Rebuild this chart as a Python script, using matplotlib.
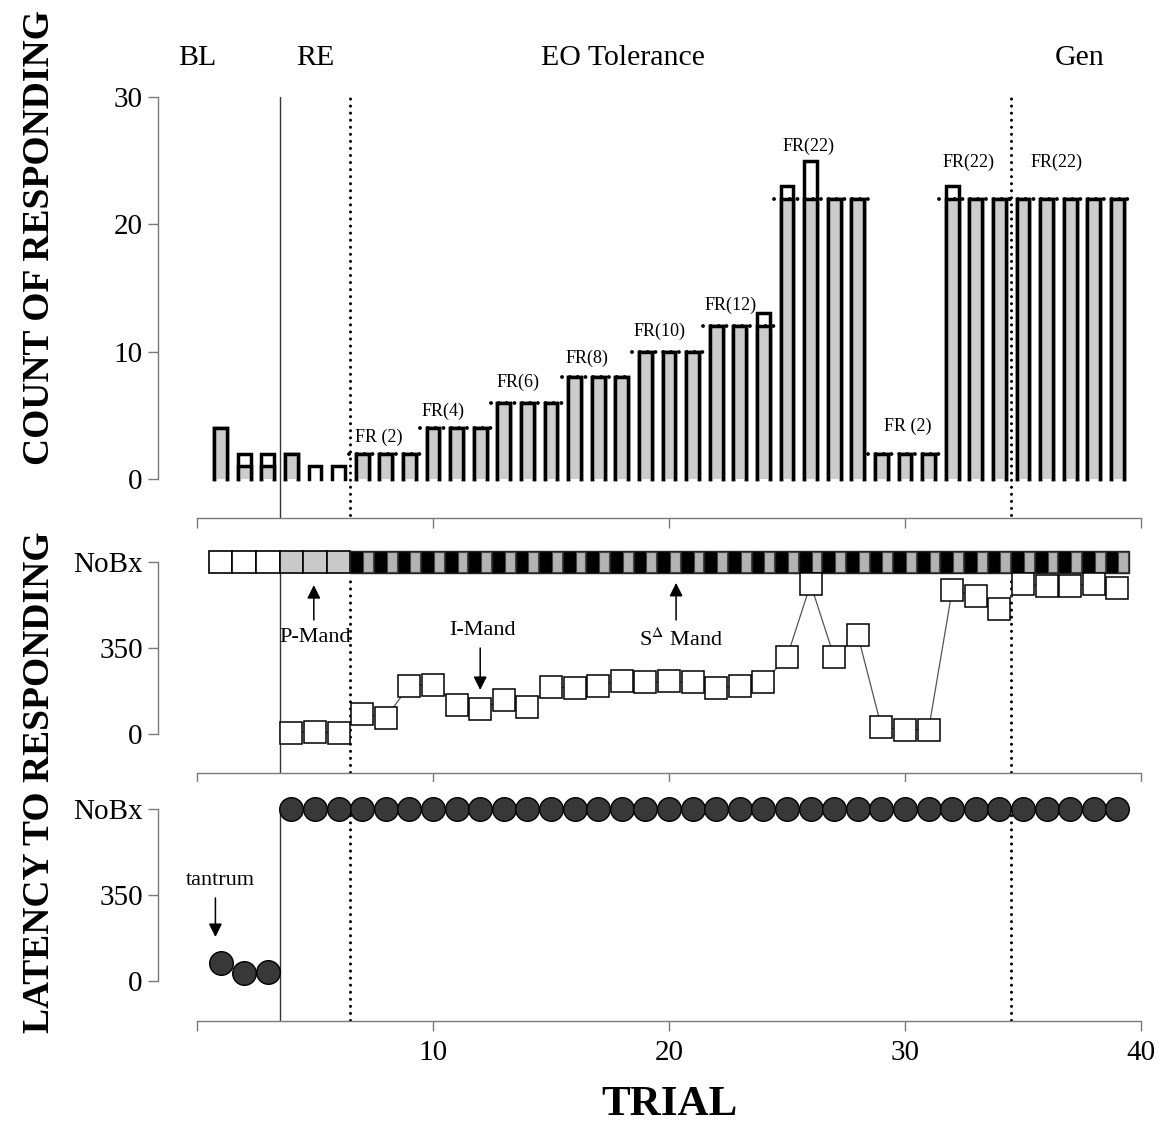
import numpy as np
import matplotlib.pyplot as plt

plt.rcParams['font.family'] = ['Liberation Serif', 'DejaVu Serif']
plt.rcParams['mathtext.fontset'] = 'stix'

NOBX = 700

trials = np.arange(1, 40)

# responses per trial: all responses (open bars) and those counted toward the FR (grey bars)
total_count = [4, 2, 2, 2, 1, 1, 2, 2, 2, 4, 4, 4, 6, 6, 6, 8, 8, 8, 10, 10, 10,
               12, 12, 13, 23, 25, 22, 22, 2, 2, 2, 23, 22, 22, 22, 22, 22, 22, 22]
fr_count = [4, 1, 1, 2, 0, 0, 2, 2, 2, 4, 4, 4, 6, 6, 6, 8, 8, 8, 10, 10, 10,
            12, 12, 12, 22, 22, 22, 22, 2, 2, 2, 22, 22, 22, 22, 22, 22, 22, 22]

# FR requirement blocks (first trial, last trial, ratio)
fr_blocks = [(7, 9, 2), (10, 12, 4), (13, 15, 6), (16, 18, 8), (19, 21, 10),
             (22, 24, 12), (25, 28, 22), (29, 31, 2), (32, 34, 22), (35, 39, 22)]
fr_labels = ['FR (2)', 'FR(4)', 'FR(6)', 'FR(8)', 'FR(10)', 'FR(12)',
             'FR(22)', 'FR (2)', 'FR(22)', 'FR(22)']
fr_label_x = [6.7, 9.5, 12.7, 15.6, 18.5, 21.5, 24.8, 29.1, 31.6, 35.3]
fr_label_y = [3.3, 5.3, 7.6, 9.5, 11.6, 13.6, 26.1, 4.1, 24.9, 24.9]

# latency to mand (s), trials 4-39
mand_trials = np.arange(4, 40)
mand_latency = [5, 10, 3, 83, 67, 197, 201, 120, 102, 138, 110, 191, 187, 197,
                216, 210, 214, 212, 187, 197, 210, 313, 610, 313, 403, 28, 18,
                18, 586, 562, 509, 610, 602, 602, 612, 594]

# problem behaviour row at NoBx: open, prompted, and split cells
strip_kind = ['open'] * 3 + ['prompt'] * 3 + ['split'] * 33

# latency to problem behaviour (s); NoBx = no behaviour
pb_latency = [73, 32, 38] + [NOBX] * 36

phase_names = ['BL', 'RE', 'EO Tolerance', 'Gen']
phase_x = [0.0, 5.0, 18.05, 37.4]
phase_solid = [3.5]
phase_dotted = [6.5, 34.5]

W, H = 1168, 1128
fig = plt.figure(figsize=(W / 100, H / 100), dpi=100)

px_per_trial = (1141 - 197) / 40
xlim = (-(197 - 158) / px_per_trial, 40 + (1150 - 1141) / px_per_trial)


def make_axes(top_px, bottom_px):
    ax = fig.add_axes([158 / W, 1 - bottom_px / H, (1150 - 158) / W, (bottom_px - top_px) / H])
    ax.set_xlim(*xlim)
    for s in ['top', 'right']:
        ax.spines[s].set_visible(False)
    for s in ['left', 'bottom']:
        ax.spines[s].set_color('#7a7a7a')
        ax.spines[s].set_linewidth(1.0)
    ax.spines['bottom'].set_bounds(0, 40)
    ax.set_xticks([0, 10, 20, 30, 40])
    ax.tick_params(axis='both', direction='out', length=7, width=1.0, color='#7a7a7a',
                   labelsize=21, pad=4)
    ax.tick_params(axis='x', labelbottom=False)
    return ax


dotted = dict(color='black', lw=2.2, linestyle=(0, (0.01, 2.3)), dash_capstyle='round')
solid = dict(color='#333333', lw=1.0)

# ---- count of responding ----
ax1 = make_axes(97, 518)
scale1 = (479 - 97) / 30
ax1.set_ylim(-(518 - 479) / scale1, 30)
ax1.spines['left'].set_bounds(0, 30)
ax1.set_yticks([0, 10, 20, 30])

bw = 0.55


def outlined_bars(ax, x, h, fill, z):
    ax.bar(x, h, width=bw, color=fill, edgecolor='none', zorder=z)
    for xi, hi in zip(x, h):
        if hi > 0:
            ax.plot([xi - bw / 2, xi - bw / 2, xi + bw / 2, xi + bw / 2], [0, hi, hi, 0],
                    color='black', lw=2.5, solid_joinstyle='miter', zorder=z + 0.5)


outlined_bars(ax1, trials, total_count, 'white', 2)
outlined_bars(ax1, trials, fr_count, '#cccccc', 3)

for (a, b, r) in fr_blocks:
    ax1.plot([a - 0.55, b + 0.45], [r, r], color='black', lw=2.8,
             linestyle=(0, (0.01, 2.0)), dash_capstyle='round', zorder=5)
for lab, lx, ly in zip(fr_labels, fr_label_x, fr_label_y):
    ax1.text(lx, ly, lab, fontsize=13, ha='left', va='center')

for x in phase_solid:
    ax1.plot([x, x], [ax1.get_ylim()[0], 30], **solid, zorder=1)
for x in phase_dotted:
    ax1.plot([x, x], [-2.8, 30], **dotted, zorder=1)

for name, x in zip(phase_names, phase_x):
    ax1.text(x, 30 + (97 - 58) / scale1, name, fontsize=21.5, ha='center', va='center')

# ---- latency to mand ----
ax2 = make_axes(530, 773)
scale2 = (734 - 562) / NOBX
ax2.set_ylim(-(773 - 734) / scale2, NOBX + (562 - 530) / scale2)
ax2.spines['left'].set_bounds(0, NOBX)
ax2.set_yticks([0, 350, NOBX])
ax2.set_yticklabels(['0', '350', 'NoBx'])

cell_h = 22 / scale2
kinds = np.array(strip_kind)
for kind, fill in [('open', 'white'), ('prompt', '#c9c9c9')]:
    xs = trials[kinds == kind]
    ax2.bar(xs, cell_h, width=1.0, bottom=NOBX - cell_h / 2, color=fill,
            edgecolor='black', lw=1.2, zorder=3)
xs = trials[kinds == 'split']
ax2.bar(xs, cell_h, width=1.0, bottom=NOBX - cell_h / 2, color='black',
        edgecolor='#222222', lw=1.0, zorder=3)
ax2.bar(xs + 0.25, cell_h * 0.9, width=0.42, bottom=NOBX - cell_h * 0.45,
        color='#b3b3b3', edgecolor='#444444', lw=0.8, zorder=4)

ax2.plot(mand_trials, mand_latency, color='#555555', lw=0.9, marker='s', ms=16,
         mfc='white', mec='black', mew=1.1, zorder=5)

ymin2 = ax2.get_ylim()[0]
for x in phase_solid:
    ax2.plot([x, x], [ymin2, NOBX - cell_h / 2], **solid, zorder=1)
for x in phase_dotted:
    ax2.plot([x, x], [ymin2 + 5, NOBX - cell_h / 2 - 8], **dotted, zorder=1)

arrow = dict(arrowstyle='-|>', color='black', lw=1.1, mutation_scale=20, shrinkA=0, shrinkB=0)
ax2.annotate('', xy=(4.95, 606), xytext=(4.95, 464), arrowprops=arrow)
ax2.text(5.0, 391, 'P-Mand', fontsize=16, ha='center', va='center')
ax2.annotate('', xy=(12.0, 179), xytext=(12.0, 350), arrowprops=arrow)
ax2.text(12.1, 423, 'I-Mand', fontsize=16, ha='center', va='center')
ax2.annotate('', xy=(20.3, 615), xytext=(20.3, 464), arrowprops=arrow)
ax2.text(20.5, 383, r'S$^{\Delta}$ Mand', fontsize=16, ha='center', va='center')

# ---- latency to problem behaviour ----
ax3 = make_axes(782, 1021)
scale3 = (981 - 809) / NOBX
ax3.set_ylim(-(1021 - 981) / scale3, NOBX + (809 - 782) / scale3)
ax3.spines['left'].set_bounds(0, NOBX)
ax3.set_yticks([0, 350, NOBX])
ax3.set_yticklabels(['0', '350', 'NoBx'])
ax3.tick_params(axis='x', labelbottom=True, pad=7)
ax3.set_xticklabels(['', '10', '20', '30', '40'])

ax3.plot(trials, pb_latency, ls='none', marker='o', ms=17, mfc='#383838',
         mec='black', mew=1.0, zorder=5)

ymin3 = ax3.get_ylim()[0]
for x in phase_solid:
    ax3.plot([x, x], [ymin3, NOBX], **solid, zorder=1)
for x in phase_dotted:
    ax3.plot([x, x], [ymin3 + 5, NOBX - 20], **dotted, zorder=1)

ax3.annotate('', xy=(0.78, 179), xytext=(0.78, 338), arrowprops=arrow)
ax3.text(1.0, 411, 'tantrum', fontsize=16, ha='center', va='center')

fig.text(40 / W, 1 - 238 / H, 'COUNT OF RESPONDING', rotation=90, fontsize=27,
         fontweight='bold', ha='center', va='center')
fig.text(40 / W, 1 - 782 / H, 'LATENCY TO RESPONDING', rotation=90, fontsize=27,
         fontweight='bold', ha='center', va='center')
fig.text(669 / W, 1 - 1105 / H, 'TRIAL', fontsize=31, fontweight='bold',
         ha='center', va='center')

fig.savefig('out.png', dpi=100)
